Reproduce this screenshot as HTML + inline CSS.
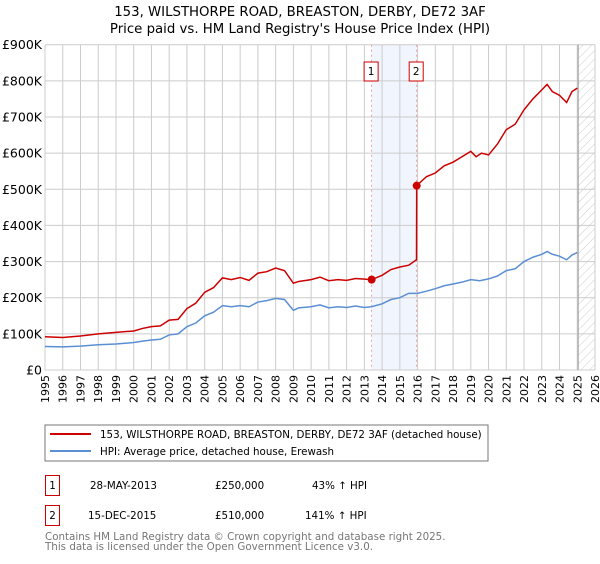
<!DOCTYPE html>
<html><head><meta charset="utf-8"><style>
body{margin:0;background:#fff;font-family:"DejaVu Sans","Liberation Sans",sans-serif;}
svg text{font-family:"DejaVu Sans","Liberation Sans",sans-serif;}
</style></head><body>
<svg id="c" width="600" height="560" xmlns="http://www.w3.org/2000/svg">
<defs><pattern id="h" width="6" height="6" patternUnits="userSpaceOnUse" patternTransform="rotate(45)"><line x1="0" y1="0" x2="0" y2="6" stroke="#ccc" stroke-width="1"/></pattern></defs>
<text x="300" y="16" text-anchor="middle" font-size="13.3">153, WILSTHORPE ROAD, BREASTON, DERBY, DE72 3AF</text>
<text x="300" y="33" text-anchor="middle" font-size="13.3">Price paid vs. HM Land Registry's House Price Index (HPI)</text>
<g id="plot"></g>
<rect x="45" y="425" width="443" height="36" fill="#fff" stroke="#777"/>
<line x1="50" y1="434" x2="91" y2="434" stroke="#cc0000" stroke-width="2"/>
<text x="100" y="438" font-size="10.3">153, WILSTHORPE ROAD, BREASTON, DERBY, DE72 3AF (detached house)</text>
<line x1="50" y1="451" x2="91" y2="451" stroke="#5b8fd4" stroke-width="2"/>
<text x="100" y="455" font-size="10.3">HPI: Average price, detached house, Erewash</text>
<g font-size="10.3">
<rect x="45.5" y="475.5" width="14" height="20" fill="none" stroke="#cc0000"/>
<text x="52.5" y="489" text-anchor="middle">1</text>
<text x="90" y="489">28-MAY-2013</text><text x="215" y="489">£250,000</text><text x="312" y="489">43% ↑ HPI</text>
<rect x="45.5" y="505.5" width="14" height="20" fill="none" stroke="#cc0000"/>
<text x="52.5" y="519" text-anchor="middle">2</text>
<text x="88" y="519">15-DEC-2015</text><text x="215" y="519">£510,000</text><text x="305" y="519">141% ↑ HPI</text>
</g>
<text x="45" y="540" font-size="10.3" fill="#777">Contains HM Land Registry data © Crown copyright and database right 2025.</text>
<text x="45" y="550" font-size="10.3" fill="#777">This data is licensed under the Open Government Licence v3.0.</text>
</svg>
<script>
const hpiYears=[1995,1996,1997,1998,1999,2000,2000.5,2001,2001.5,2002,2002.5,2003,2003.5,2004,2004.5,2005,2005.5,2006,2006.5,2007,2007.5,2008,2008.5,2009,2009.3,2010,2010.5,2011,2011.5,2012,2012.5,2013,2013.4,2014,2014.5,2015,2015.5,2016,2016.5,2017,2017.5,2018,2018.5,2019,2019.5,2020,2020.5,2021,2021.5,2022,2022.5,2023,2023.3,2023.6,2024,2024.4,2024.7,2025];
const hpiValues=[65,64,66,70,72,76,80,83,85,97,100,120,130,150,160,178,175,178,175,188,192,198,195,165,172,175,180,172,175,173,177,173,175,183,195,200,212,212,218,225,233,238,243,250,247,252,260,275,280,300,312,320,328,320,315,305,318,325];
const priceYears=[1995,1996,1997,1998,1999,2000,2000.5,2001,2001.5,2002,2002.5,2003,2003.5,2004,2004.5,2005,2005.5,2006,2006.5,2007,2007.5,2008,2008.5,2009,2009.3,2010,2010.5,2011,2011.5,2012,2012.5,2013.41,2014,2014.5,2015,2015.5,2015.94,2015.95,2016.5,2017,2017.5,2018,2018.5,2019,2019.3,2019.6,2020,2020.5,2021,2021.5,2022,2022.5,2023,2023.3,2023.6,2024,2024.4,2024.7,2025];
const priceValues=[92,90,94,100,104,108,115,120,122,138,140,170,185,215,228,255,250,256,248,268,272,282,275,240,245,250,257,247,250,248,253,250,262,278,285,290,305,510,535,545,565,575,590,605,590,600,595,625,665,680,720,750,775,790,770,760,740,770,780];
const saleYears=[2013.41,2015.95];
const saleValues=[250,510];
const saleLabels=["1","2"];
const yTicks=[0,100,200,300,400,500,600,700,800,900];
const yTickLabels=["£0","£100K","£200K","£300K","£400K","£500K","£600K","£700K","£800K","£900K"];
const xTicks=[1995,1996,1997,1998,1999,2000,2001,2002,2003,2004,2005,2006,2007,2008,2009,2010,2011,2012,2013,2014,2015,2016,2017,2018,2019,2020,2021,2022,2023,2024,2025,2026];

const L=45,R=595,T=44.7,B=370,x0=1995,x1=2026,ymax=900;
const xs=v=>L+(v-x0)/(x1-x0)*(R-L);
const ys=v=>B-v/ymax*(B-T);
const NS="http://www.w3.org/2000/svg";
const g=document.getElementById('plot');
function mk(t,a){const e=document.createElementNS(NS,t);for(const k in a)e.setAttribute(k,a[k]);g.appendChild(e);return e;}
let e;
e=mk('rect',{x:xs(saleYears[0]),y:T,width:xs(saleYears[1])-xs(saleYears[0]),height:B-T,fill:'#f1f5fd'});


e=mk('rect',{x:xs(2025.05),y:T,width:R-xs(2025.05),height:B-T,fill:'url(#h)'});


xTicks.forEach(t=>{
 e=mk('line',{x1:xs(t),x2:xs(t),y1:T,y2:B,stroke:'#ccc','stroke-width':1});
 
 
 e=mk('text',{x:0,y:0,'font-size':11,'text-anchor':'end',transform:`translate(${xs(t)+4},${B+5}) rotate(-90)`});
 e.textContent=t;
 
 
});
yTicks.forEach((t,i)=>{
 e=mk('line',{x1:L,x2:R,y1:ys(t),y2:ys(t),stroke:'#ccc','stroke-width':1});
 
 
 e=mk('text',{x:L-3,y:ys(t)+4.5,'font-size':12.5,'text-anchor':'end'});
 e.textContent=yTickLabels[i];
 
 
});
e=mk('line',{x1:xs(2025.05),x2:xs(2025.05),y1:T,y2:B,stroke:'#999','stroke-width':1});


saleYears.forEach((s,i)=>{
 e=mk('line',{x1:xs(s),x2:xs(s),y1:T,y2:B,stroke:'#e88','stroke-width':0.8,'stroke-dasharray':'2,3'});
 
 
 e=mk('rect',{x:xs(s)-7.5,y:62,width:14,height:19,fill:'#fff',stroke:'#cc0000'});
 
 
 e=mk('text',{x:xs(s)-0.5,y:75,'font-size':10.5,'text-anchor':'middle'});
 e.textContent=saleLabels[i];
 
 
});
e=mk('polyline',{points:hpiYears.map((y,i)=>xs(y)+','+ys(hpiValues[i])).join(' '),fill:'none',stroke:'#5b8fd4','stroke-width':1.5});


e=mk('polyline',{points:priceYears.map((y,i)=>xs(y)+','+ys(priceValues[i])).join(' '),fill:'none',stroke:'#cc0000','stroke-width':1.5});


saleYears.forEach((s,i)=>{
 e=mk('circle',{cx:xs(s),cy:ys(saleValues[i]),r:4,fill:'#cc0000'});
 
 
});
</script>
</body></html>
